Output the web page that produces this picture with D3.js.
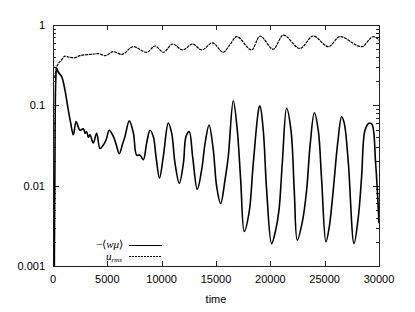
<!DOCTYPE html>
<meta charset="utf-8">
<html>
<head>
<style>
  body { margin: 0; background: #fff; }
  text { font-family: "Liberation Sans", Arial, sans-serif; font-size: 11px; fill: #000; }
  .frame { fill: none; stroke: #222; stroke-width: 1; }
  .tick { stroke: #222; stroke-width: 1; }
</style>
<script src="https://d3js.org/d3.v7.min.js"></script>
</head>
<body>
<svg width="415" height="312"></svg>
<script>
// time samples and values
var wmuTime = [120, 180, 250, 340, 480, 800, 1100, 1410, 1630, 1870, 2120, 2300, 2480, 2790, 2950, 3100, 3250, 3400, 3710, 4020, 4325, 4630, 4880, 5180, 5550, 5800, 6100, 6400, 6625, 7020, 7400, 7700, 8010, 8310, 8620, 8930, 9230, 9480, 9800, 10150, 10610, 10920, 11230, 11620, 12000, 12240, 12540, 12850, 13280, 13680, 14000, 14360, 14750, 15060, 15430, 15830, 16130, 16590, 16960, 17270, 17600, 18060, 18430, 18980, 19050, 19350, 19660, 20120, 20490, 20800, 21100, 21500, 21900, 22200, 22480, 22970, 23340, 23650, 24050, 24410, 24720, 25120, 25430, 25790, 26200, 26560, 26800, 27180, 27700, 28100, 28400, 28710, 29080, 29350, 29690, 30000];
var wmu = [0.0009, 0.02, 0.2, 0.29, 0.26, 0.227, 0.155, 0.087, 0.06, 0.043, 0.063, 0.055, 0.049, 0.051, 0.045, 0.047, 0.04, 0.043, 0.034, 0.045, 0.029, 0.032, 0.037, 0.049, 0.041, 0.033, 0.025, 0.033, 0.041, 0.064, 0.045, 0.024, 0.024, 0.021, 0.034, 0.049, 0.041, 0.023, 0.0124, 0.023, 0.06, 0.045, 0.019, 0.0107, 0.019, 0.041, 0.047, 0.023, 0.009, 0.0157, 0.034, 0.057, 0.028, 0.0098, 0.006, 0.0118, 0.023, 0.114, 0.049, 0.0118, 0.0027, 0.0048, 0.019, 0.096, 0.098, 0.049, 0.0088, 0.0019, 0.0028, 0.005, 0.019, 0.092, 0.049, 0.0088, 0.0021, 0.0037, 0.0088, 0.0306, 0.081, 0.049, 0.0118, 0.002, 0.0031, 0.0088, 0.034, 0.072, 0.06, 0.019, 0.0019, 0.0041, 0.013, 0.049, 0.06, 0.058, 0.019, 0.0034];

var urmsTime = [150, 340, 800, 1100, 1410, 1930, 2480, 3400, 4170, 4790, 5550, 6320, 7390, 8620, 9390, 10150, 11010, 11930, 12850, 13680, 14690, 15670, 16250, 16900, 18280, 19050, 20270, 21190, 22720, 23950, 25340, 26400, 28400, 29480, 30000];
var urms = [0.22, 0.3, 0.37, 0.41, 0.4, 0.39, 0.415, 0.43, 0.44, 0.415, 0.465, 0.43, 0.537, 0.457, 0.548, 0.457, 0.58, 0.49, 0.58, 0.49, 0.6, 0.457, 0.56, 0.716, 0.49, 0.73, 0.5, 0.75, 0.51, 0.73, 0.537, 0.716, 0.537, 0.716, 0.65];

var xTicks = [0, 5000, 10000, 15000, 20000, 25000, 30000];
var yTicks = [0.001, 0.01, 0.1, 1];
var yTickLabels = ["0.001", "0.01", "0.1", "1"];

var svg = d3.select("svg"),
    margin = {top: 25, right: 36, bottom: 46, left: 53},
    width = +svg.attr("width") - margin.left - margin.right,
    height = +svg.attr("height") - margin.top - margin.bottom,
    g = svg.append("g").attr("transform", "translate(" + margin.left + "," + margin.top + ")");

var x = d3.scaleLinear().domain([0, 30000]).range([0, width]);
var y = d3.scaleLog().domain([0.001, 1]).range([height, 0]);

svg.append("defs").append("clipPath").attr("id", "clip")
  .append("rect").attr("width", width).attr("height", height);

// minor log ticks on left and right
var minor = [];
[0.001, 0.01, 0.1].forEach(function(d) {
  for (var k = 2; k <= 9; k++) minor.push(d * k);
});
g.selectAll(".minl").data(minor).enter().append("line")
  .attr("class", "tick")
  .attr("x1", 0).attr("x2", 3)
  .attr("y1", function(d) { return Math.round(y(d)) + 0.5; })
  .attr("y2", function(d) { return Math.round(y(d)) + 0.5; });
g.selectAll(".minr").data(minor).enter().append("line")
  .attr("class", "tick")
  .attr("x1", width).attr("x2", width - 3)
  .attr("y1", function(d) { return Math.round(y(d)) + 0.5; })
  .attr("y2", function(d) { return Math.round(y(d)) + 0.5; });

// major y ticks
g.selectAll(".majl").data(yTicks).enter().append("line")
  .attr("class", "tick")
  .attr("x1", 0).attr("x2", 6)
  .attr("y1", function(d) { return Math.round(y(d)) + 0.5; })
  .attr("y2", function(d) { return Math.round(y(d)) + 0.5; });
g.selectAll(".majr").data(yTicks).enter().append("line")
  .attr("class", "tick")
  .attr("x1", width).attr("x2", width - 6)
  .attr("y1", function(d) { return Math.round(y(d)) + 0.5; })
  .attr("y2", function(d) { return Math.round(y(d)) + 0.5; });
g.selectAll(".ylab").data(yTicks).enter().append("text")
  .attr("x", -8)
  .attr("y", function(d) { return y(d); })
  .attr("dy", "0.35em")
  .attr("text-anchor", "end")
  .text(function(d, i) { return yTickLabels[i]; });

// x ticks bottom and top
g.selectAll(".xb").data(xTicks).enter().append("line")
  .attr("class", "tick")
  .attr("x1", function(d) { return Math.round(x(d)) + 0.5; })
  .attr("x2", function(d) { return Math.round(x(d)) + 0.5; })
  .attr("y1", height).attr("y2", height - 5);
g.selectAll(".xt").data(xTicks).enter().append("line")
  .attr("class", "tick")
  .attr("x1", function(d) { return Math.round(x(d)) + 0.5; })
  .attr("x2", function(d) { return Math.round(x(d)) + 0.5; })
  .attr("y1", 0).attr("y2", 5);
g.selectAll(".xlab").data(xTicks).enter().append("text")
  .attr("x", function(d) { return x(d); })
  .attr("y", height + 17)
  .attr("text-anchor", "middle")
  .text(function(d) { return d; });

g.append("text")
  .attr("x", width / 2)
  .attr("y", height + 37)
  .attr("text-anchor", "middle")
  .text("time");

g.append("rect").attr("class", "frame")
  .attr("x", 0.5).attr("y", 0.5)
  .attr("width", width).attr("height", height);

var lineW = d3.line()
  .curve(d3.curveCatmullRom.alpha(0.5))
  .x(function(d, i) { return x(wmuTime[i]); })
  .y(function(d) { return y(d); });
var lineU = d3.line()
  .curve(d3.curveMonotoneX)
  .x(function(d, i) { return x(urmsTime[i]); })
  .y(function(d) { return y(d); });

g.append("path")
  .datum(wmu)
  .attr("clip-path", "url(#clip)")
  .attr("fill", "none")
  .attr("stroke", "#000")
  .attr("stroke-width", 1.6)
  .attr("stroke-linejoin", "round")
  .attr("d", lineW);

g.append("path")
  .datum(urms)
  .attr("clip-path", "url(#clip)")
  .attr("fill", "none")
  .attr("stroke", "#000")
  .attr("stroke-width", 1.2)
  .attr("stroke-dasharray", "3,0.8")
  .attr("d", lineU);

// legend
var leg = g.append("g").attr("transform", "translate(0," + (height - 21) + ")");
var lt = leg.append("text")
  .attr("x", 70).attr("y", 3)
  .attr("text-anchor", "end")
  .style("font-family", "'Liberation Serif', 'Times New Roman', serif")
  .style("font-size", "11px");
lt.append("tspan").text("−⟨");
lt.append("tspan").style("font-style", "italic").text("wμ");
lt.append("tspan").text("⟩");
leg.append("line")
  .attr("x1", 76).attr("x2", 109).attr("y1", 0.5).attr("y2", 0.5)
  .attr("stroke", "#000").attr("stroke-width", 1.2);

var ut = leg.append("text")
  .attr("x", 69).attr("y", 15)
  .attr("text-anchor", "end")
  .style("font-family", "'Liberation Serif', 'Times New Roman', serif")
  .style("font-style", "italic")
  .style("font-size", "11px");
ut.append("tspan").text("u");
ut.append("tspan").attr("dy", 2).style("font-size", "7px").text("rms");
leg.append("line")
  .attr("x1", 76).attr("x2", 109).attr("y1", 11.5).attr("y2", 11.5)
  .attr("stroke", "#000").attr("stroke-width", 1)
  .attr("stroke-dasharray", "2,1");
</script>
</body>
</html>
